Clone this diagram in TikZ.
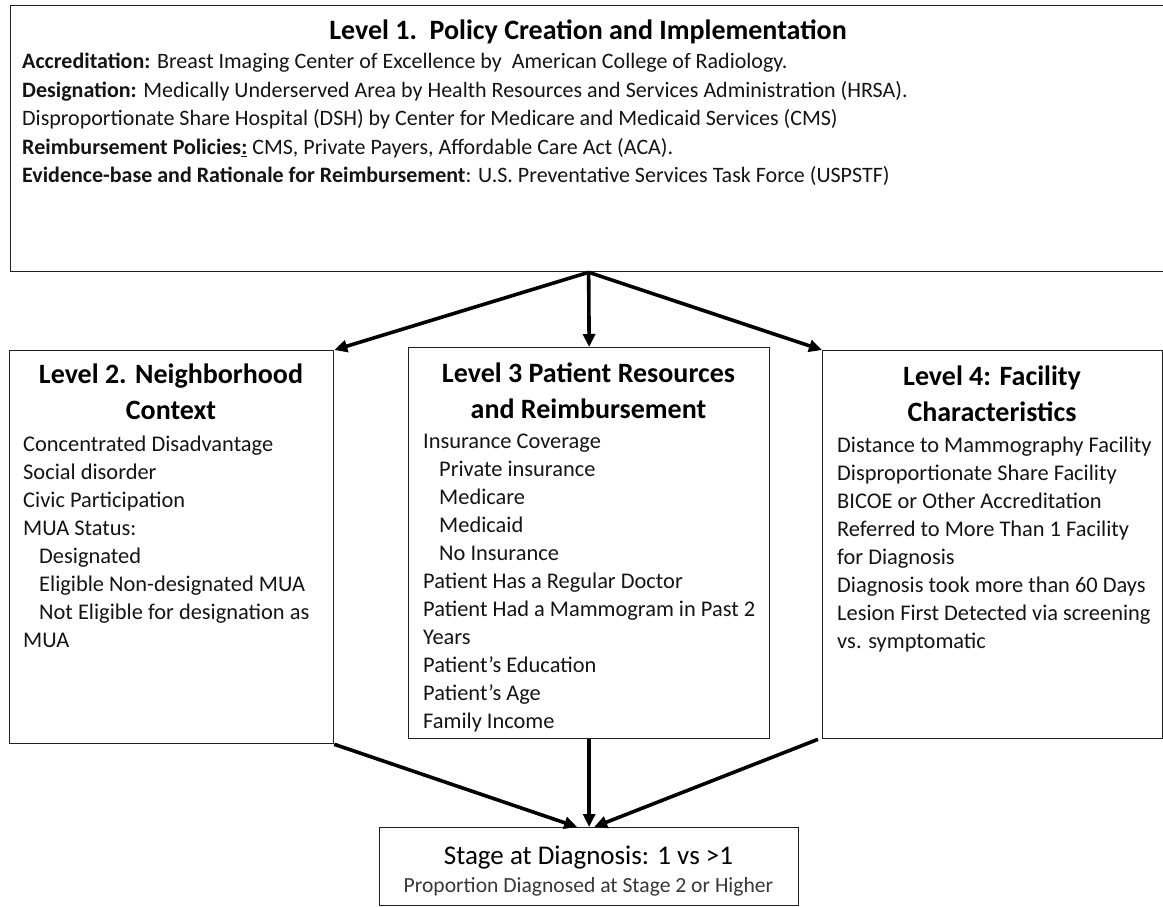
\documentclass[tikz,border=0pt]{standalone}
\usepackage{fontspec}
\setmainfont{Carlito}
\usetikzlibrary{arrows.meta,calc}
\newcommand\fsLone{\fontsize{22}{28.5}\selectfont}
\newcommand\fsBody{\fontsize{22.4}{28}\selectfont}
\newcommand\ind{\hspace*{16pt}}
\begin{document}
\begin{tikzpicture}[x=1pt,y=-1pt,
  box/.style={draw=black!88, line width=1.3pt, inner sep=0pt, anchor=north west},
  arr/.style={line width=3.6pt, -{Triangle[length=13pt,width=12pt]}},
  body/.style={anchor=north west, inner sep=0pt, align=left, text=black!92},
  head/.style={anchor=north, inner sep=0pt, align=center, font=\bfseries\fontsize{28}{36}\selectfont},
]
\useasboundingbox (0,0) rectangle (1163,906);
% boxes
\node[box, minimum width=1156pt, minimum height=266pt] (l1) at (10,5) {};
\node[box, minimum width=324pt, minimum height=393pt] (l2) at (9,350) {};
\node[box, minimum width=361pt, minimum height=391pt] (l3) at (408,347) {};
\node[box, minimum width=340pt, minimum height=388pt] (l4) at (822,350) {};
\node[box, minimum width=419pt, minimum height=78pt] (st) at (379,827) {};
% level 1 text
\node[anchor=base, inner sep=0pt, font=\bfseries\fontsize{28}{34}\selectfont] (l1t) at (588,39) {Level 1.\ \ Policy Creation and Implementation};
\node[body, font=\fsLone] (l1b) at (22,48.55) {\strut\textbf{Accreditation:} Breast Imaging Center of Excellence by\ \ American College of Radiology.\\
\textbf{Designation:} Medically Underserved Area by Health Resources and Services Administration (HRSA).\\
Disproportionate Share Hospital (DSH) by Center for Medicare and Medicaid Services (CMS)\\
\textbf{Reimbursement Policies}\underline{\textbf{:}} CMS, Private Payers, Affordable Care Act (ACA).\\
\textbf{Evidence-base and Rationale for Reimbursement}: U.S. Preventative Services Task Force (USPSTF)};
% level 2 text
\node[head] (l2h) at (171,357.8) {\strut Level 2. Neighborhood\\Context};
\node[body, font=\fsBody] (l2b) at (23,431.4) {\strut Concentrated Disadvantage\\
Social disorder\\
Civic Participation\\
MUA Status:\\
\ind Designated\\
\ind Eligible Non-designated MUA\\
\ind Not Eligible for designation as\\
MUA};
% level 3 text
\node[head] (l3h) at (588.5,356.8) {\strut Level 3 Patient Resources\\and Reimbursement};
\node[body, font=\fsBody] (l3b) at (423,428.4) {\strut Insurance Coverage\\
\ind Private insurance\\
\ind Medicare\\
\ind Medicaid\\
\ind No Insurance\\
Patient Has a Regular Doctor\\
Patient Had a Mammogram in Past 2\\
Years\\
Patient’s Education\\
Patient’s Age\\
Family Income};
% level 4 text
\node[head] (l4h) at (992,359.8) {\strut Level 4: Facility\\Characteristics};
\node[body, font=\fsBody] (l4b) at (837,432.4) {\strut Distance to Mammography Facility\\
Disproportionate Share Facility\\
BICOE or Other Accreditation\\
Referred to More Than 1 Facility\\
for Diagnosis\\
Diagnosis took more than 60 Days\\
Lesion First Detected via screening\\
vs. symptomatic};
% stage text
\node[anchor=base, inner sep=0pt, font=\fontsize{27}{32}\selectfont] (stt) at (588.5,864) {Stage at Diagnosis: 1 vs >1};
\node[anchor=base, inner sep=0pt, font=\fontsize{21.6}{26}\selectfont, text=black!78] (sts) at (588.5,892) {Proportion Diagnosed at Stage 2 or Higher};
% arrows
\draw[arr] (l1.south) -- (l2.north east);
\draw[arr] (l1.south) -- (l3.north);
\draw[arr] (l1.south) -- (l4.north west);
\draw[arr] (l2.south east) -- ($(st.north)+(-12,0)$);
\draw[arr] (l3.south) -- (st.north);
\draw[arr] ($(l4.south west)+(-4,0)$) -- ($(st.north)+(5,0)$);
\end{tikzpicture}
\end{document}
